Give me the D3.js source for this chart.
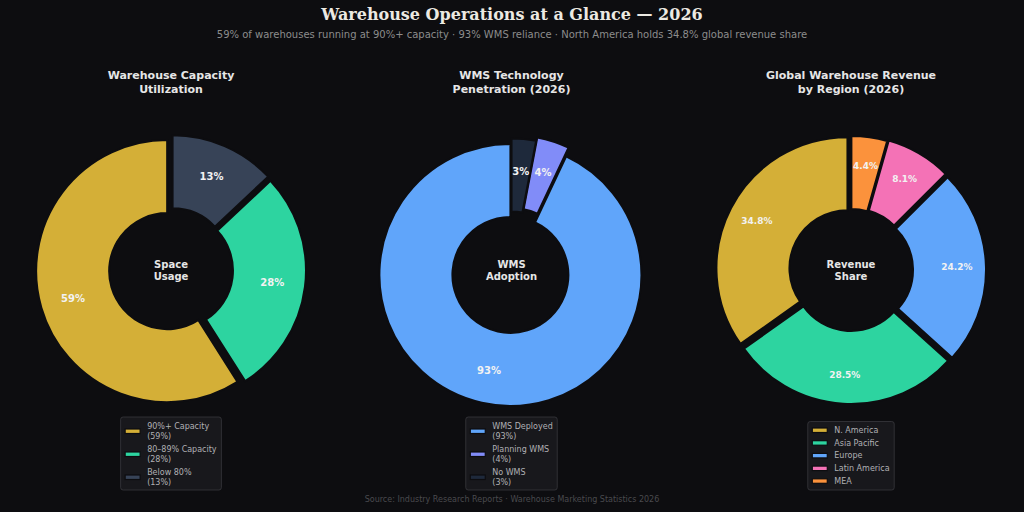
<!DOCTYPE html>
<html>
<head>
<meta charset="utf-8">
<script src="https://cdn.jsdelivr.net/npm/d3@7"></script>
<style>
  html, body { margin: 0; padding: 0; background: #0d0d10; }
  svg { display: block; }
</style>
</head>
<body>
<div id="chart"></div>
<script>
var WIDTH = 1024;
var HEIGHT = 512;
var BG = "#0d0d10";

// data
var capacityLabels = ["90%+ Capacity", "80\u201389% Capacity", "Below 80%"];
var capacityValues = [59, 28, 13];

var wmsLabels = ["WMS Deployed", "Planning WMS", "No WMS"];
var wmsValues = [93, 4, 3];

var regionLabels = ["N. America", "Asia Pacific", "Europe", "Latin America", "MEA"];
var regionValues = [34.8, 28.5, 24.2, 8.1, 4.4];

var panels = [
    {
        title: ["Warehouse Capacity", "Utilization"],
        center: ["Space", "Usage"],
        labels: capacityLabels,
        values: capacityValues,
        colors: ["#d4af37", "#2dd4a0", "#374357"],
        explode: [4, 4, 4],
        fmt: function(v) { return d3.format(".0f")(v) + "%"; },
        labelSize: 10,
        labelR: 98,
        legendTwoLine: true,
        cx: 171
    },
    {
        title: ["WMS Technology", "Penetration (2026)"],
        center: ["WMS", "Adoption"],
        labels: wmsLabels,
        values: wmsValues,
        colors: ["#60a5fa", "#818cf8", "#1e293b"],
        explode: [5, 4, 0.5],
        fmt: function(v) { return d3.format(".0f")(v) + "%"; },
        labelSize: 10,
        labelR: 98,
        legendTwoLine: true,
        cx: 511.5
    },
    {
        title: ["Global Warehouse Revenue", "by Region (2026)"],
        center: ["Revenue", "Share"],
        labels: regionLabels,
        values: regionValues,
        colors: ["#d4af37", "#2dd4a0", "#60a5fa", "#f472b6", "#fb923c"],
        explode: [4, 3, 4, 4, 3],
        fmt: function(v) { return d3.format(".1f")(v) + "%"; },
        labelSize: 9,
        labelR: 102,
        legendTwoLine: false,
        cx: 851
    }
];

var CY = 270;
var R_OUT = 131;
var R_IN = 58;

var svg = d3.select("#chart").append("svg")
    .attr("width", WIDTH)
    .attr("height", HEIGHT)
    .style("background", BG);

svg.append("rect")
    .attr("width", WIDTH)
    .attr("height", HEIGHT)
    .attr("fill", BG);

svg.append("text")
    .attr("x", WIDTH / 2)
    .attr("y", 20)
    .attr("text-anchor", "middle")
    .style("font-family", "'DejaVu Serif', serif")
    .style("font-weight", "bold")
    .style("font-size", "16px")
    .attr("fill", "#ece9e2")
    .text("Warehouse Operations at a Glance \u2014 2026");

svg.append("text")
    .attr("x", WIDTH / 2)
    .attr("y", 38)
    .attr("text-anchor", "middle")
    .style("font-family", "'DejaVu Sans', sans-serif")
    .style("font-size", "10px")
    .attr("fill", "#8c8c8c")
    .text("59% of warehouses running at 90%+ capacity \u00b7 93% WMS reliance \u00b7 North America holds 34.8% global revenue share");

svg.append("text")
    .attr("x", WIDTH / 2)
    .attr("y", 502)
    .attr("text-anchor", "middle")
    .style("font-family", "'DejaVu Sans', sans-serif")
    .style("font-size", "8px")
    .attr("fill", "#4a4a4e")
    .text("Source: Industry Research Reports \u00b7 Warehouse Marketing Statistics 2026");

var arc = d3.arc()
    .innerRadius(R_IN)
    .outerRadius(R_OUT);

// counter-clockwise from 12 o'clock, like matplotlib startangle=90
var pie = d3.pie()
    .sort(null)
    .startAngle(0)
    .endAngle(-2 * Math.PI);

panels.forEach(function(p) {
    var g = svg.append("g")
        .attr("transform", "translate(" + p.cx + "," + CY + ")");

    svg.append("text")
        .attr("x", p.cx)
        .attr("y", 79)
        .attr("text-anchor", "middle")
        .style("font-family", "'DejaVu Sans', sans-serif")
        .style("font-weight", "bold")
        .style("font-size", "11px")
        .attr("fill", "#e6e6e6")
        .selectAll("tspan")
        .data(p.title)
        .enter().append("tspan")
        .attr("x", p.cx)
        .attr("dy", function(d, i) { return i === 0 ? 0 : 13.5; })
        .text(function(d) { return d; });

    var arcs = pie(p.values);

    var slice = g.selectAll(".slice")
        .data(arcs)
        .enter().append("g")
        .attr("class", "slice")
        .attr("transform", function(d, i) {
            var a = (d.startAngle + d.endAngle) / 2;
            var e = p.explode[i];
            return "translate(" + (Math.sin(a) * e) + "," + (-Math.cos(a) * e) + ")";
        });

    slice.append("path")
        .attr("d", arc)
        .attr("fill", function(d, i) { return p.colors[i]; })
        .attr("stroke", BG)
        .attr("stroke-width", 2);

    slice.append("text")
        .attr("x", function(d) { return Math.sin((d.startAngle + d.endAngle) / 2) * p.labelR; })
        .attr("y", function(d) { return -Math.cos((d.startAngle + d.endAngle) / 2) * p.labelR; })
        .attr("dy", "0.35em")
        .attr("text-anchor", "middle")
        .style("font-family", "'DejaVu Sans', sans-serif")
        .style("font-weight", "bold")
        .style("font-size", p.labelSize + "px")
        .attr("fill", "#f2f2f2")
        .text(function(d) { return p.fmt(d.data); });

    g.append("text")
        .attr("text-anchor", "middle")
        .attr("y", -5.5)
        .attr("dy", "0.35em")
        .style("font-family", "'DejaVu Sans', sans-serif")
        .style("font-weight", "bold")
        .style("font-size", "10px")
        .attr("fill", "#e6e6e6")
        .selectAll("tspan")
        .data(p.center)
        .enter().append("tspan")
        .attr("x", 0)
        .attr("dy", function(d, i) { return i === 0 ? "0.35em" : 11.5; })
        .text(function(d) { return d; });

    // legend under each donut
    var rowH = p.legendTwoLine ? 23 : 12.7;
    var lineH = 10.7;
    var nRows = p.labels.length;
    var boxH = p.legendTwoLine ? nRows * rowH + 4 : nRows * rowH + 5;
    var boxBottom = 490;
    var boxTop = boxBottom - boxH;

    var lg = svg.append("g");
    var box = lg.append("rect")
        .attr("y", boxTop)
        .attr("height", boxH)
        .attr("rx", 2.5)
        .attr("fill", "#18181c")
        .attr("stroke", "#38383d")
        .attr("stroke-width", 0.8);

    var items = lg.selectAll(".item")
        .data(p.labels)
        .enter().append("g")
        .attr("class", "item")
        .attr("transform", function(d, i) {
            return "translate(0," + (boxTop + 4 + i * rowH) + ")";
        });

    var texts = items.append("text")
        .style("font-family", "'DejaVu Sans', sans-serif")
        .style("font-size", "8px")
        .attr("fill", "#b0b0b4");

    texts.append("tspan")
        .attr("x", 0)
        .attr("y", 7.5)
        .text(function(d) { return d; });
    if (p.legendTwoLine) {
        texts.append("tspan")
            .attr("x", 0)
            .attr("y", 7.5 + lineH)
            .text(function(d, i) { return "(" + p.fmt(p.values[i]) + ")"; });
    }

    var maxW = 0;
    texts.each(function() {
        maxW = Math.max(maxW, this.getBBox().width);
    });

    var patchW = 15;
    var boxW = 4.5 + patchW + 7 + maxW + 4.5;
    var boxLeft = p.cx - boxW / 2;
    box.attr("x", boxLeft).attr("width", boxW);

    var patchY = p.legendTwoLine ? 8 : 2.5;
    items.append("rect")
        .attr("x", boxLeft + 4.5)
        .attr("y", patchY)
        .attr("width", patchW)
        .attr("height", 4.5)
        .attr("fill", function(d, i) { return p.colors[i]; })
        .attr("stroke", BG)
        .attr("stroke-width", 1.2);

    texts.selectAll("tspan").attr("x", boxLeft + 4.5 + patchW + 7);
});
</script>
</body>
</html>
